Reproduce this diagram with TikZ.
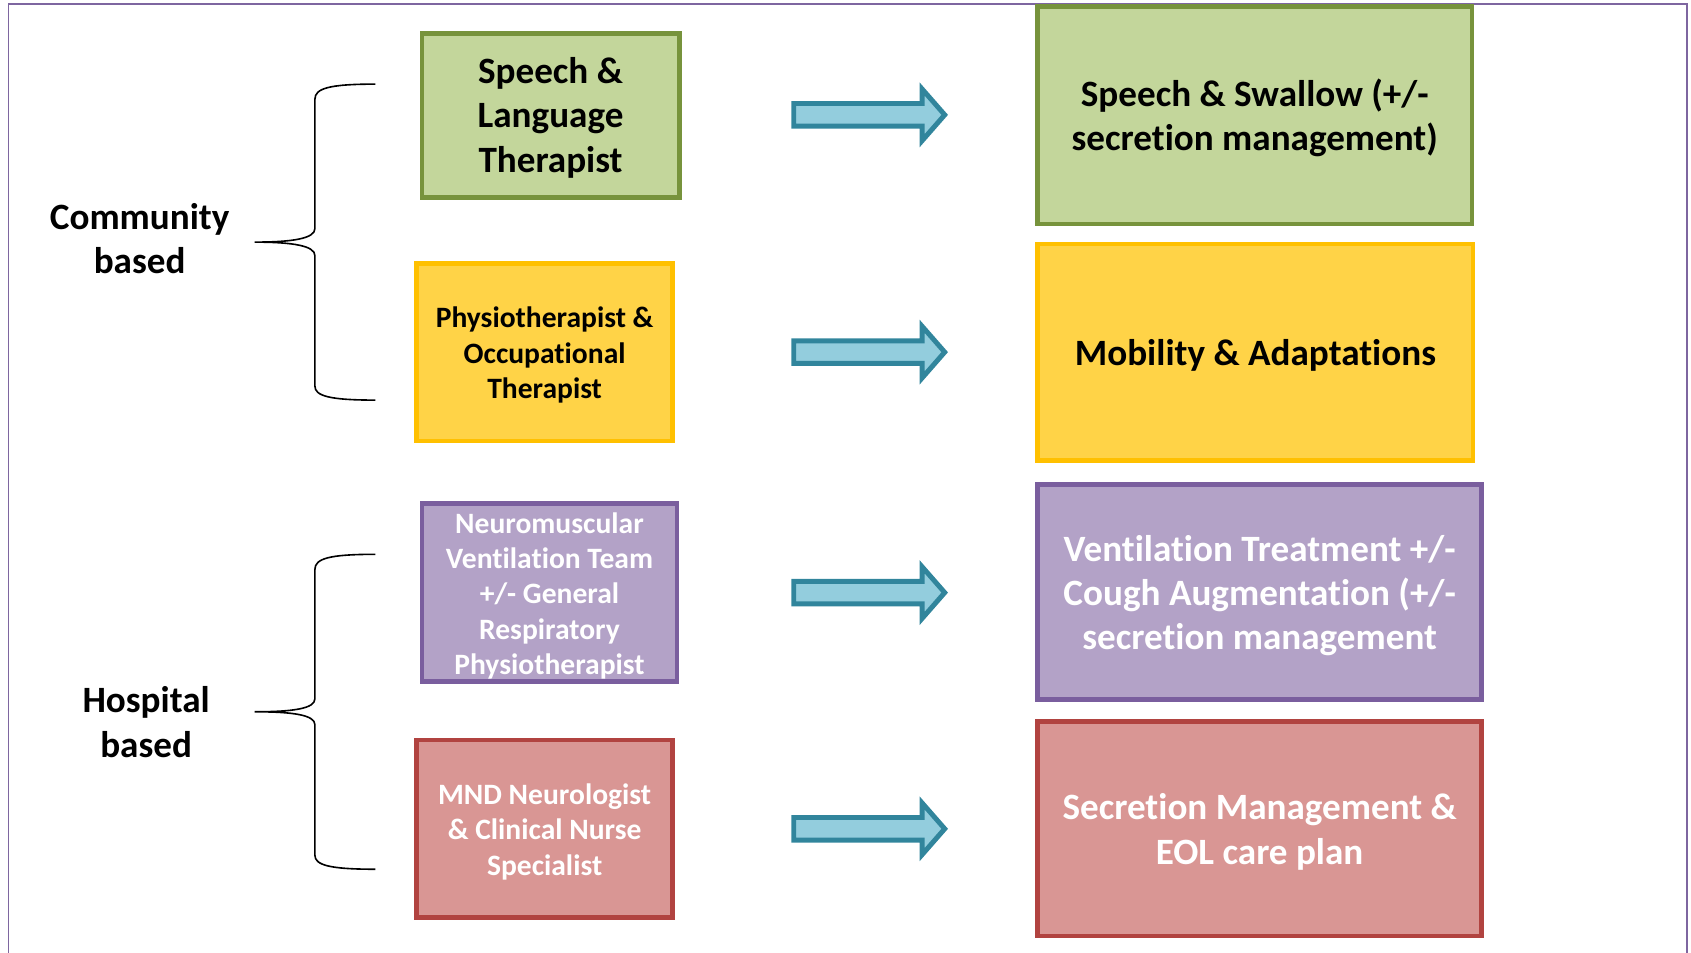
\documentclass[tikz,border=0pt]{standalone}
\usepackage{fontspec}
\setmainfont{Carlito}[Ligatures=NoCommon]
\definecolor{frameC}{HTML}{7E66A0}
\definecolor{gFill}{HTML}{C3D69B}
\definecolor{gLine}{HTML}{77933C}
\definecolor{yFill}{HTML}{FFD347}
\definecolor{yLine}{HTML}{FFC000}
\definecolor{pFill}{HTML}{B3A2C7}
\definecolor{pLine}{HTML}{7A5E9E}
\definecolor{rFill}{HTML}{D99694}
\definecolor{rLine}{HTML}{B14340}
\definecolor{aFill}{HTML}{93CDDD}
\definecolor{aLine}{HTML}{31859C}
\begin{document}
\begin{tikzpicture}[x=0.2mm,y=-0.2mm,
  box/.style={draw, line width=2.5pt, inner sep=0pt, rectangle},
  boxtext/.style={align=center, inner sep=0pt},
  bigtxt/.style={boxtext, font=\fontsize{19.6}{23.3}\selectfont\bfseries},
  smalltxt/.style={boxtext, font=\fontsize{15.6}{18.7}\selectfont\bfseries},
  greenbox/.style={box, fill=gFill, draw=gLine},
  yellowbox/.style={box, fill=yFill, draw=yLine},
  purplebox/.style={box, fill=pFill, draw=pLine},
  redbox/.style={box, fill=rFill, draw=rLine},
  grouplabel/.style={align=center, inner sep=0pt, font=\fontsize{19.6}{23.3}\selectfont\bfseries},
  bracestyle/.style={draw=black, line width=0.85pt},
  arrowstyle/.style={draw=aLine, fill=aFill, line width=2.6pt, line join=miter},
  pics/barrow/.style={code={
    \draw[arrowstyle] (0,-10.5) -- (119,-10.5) -- (119,-24) -- (140,0)
      -- (119,24) -- (119,10.5) -- (0,10.5) -- cycle;}}
]
\useasboundingbox (0,0) rectangle (1568,883);
% outer frame
\draw[frameC, line width=0.9pt] (8,890) -- (8,4) -- (1564,4) -- (1564,890);

% left boxes
\node[greenbox, minimum width=47.72mm, minimum height=30.32mm] (l1) at (510.5,107) {};
\node[bigtxt, text=black] (l1t) at ([yshift=-1.3pt]l1.center) {Speech \&\\Language\\Therapist};
\node[yellowbox, minimum width=47.52mm, minimum height=32.92mm] (l2) at (505,326.5) {};
\node[smalltxt, text=black] (l2t) at ([yshift=-1.6pt]l2.center) {Physiotherapist \&\\Occupational\\Therapist};
\node[purplebox, minimum width=47.32mm, minimum height=32.92mm] (l3) at (509.5,549.5) {};
\node[smalltxt, text=white] (l3t) at ([yshift=-1.7pt]l3.center) {Neuromuscular\\Ventilation Team\\+/- General\\Respiratory\\Physiotherapist};
\node[redbox, minimum width=47.52mm, minimum height=32.92mm] (l4) at (505,768.5) {};
\node[smalltxt, text=white] (l4t) at ([yshift=-1.6pt]l4.center) {MND Neurologist\\\& Clinical Nurse\\Specialist};

% right boxes
\node[greenbox, minimum width=80.52mm, minimum height=40.32mm] (r1) at (1163.5,107) {};
\node[bigtxt, text=black] (r1t) at ([yshift=-1.5pt]r1.center) {Speech \& Swallow (+/-\\secretion management)};
\node[yellowbox, minimum width=80.72mm, minimum height=40.12mm] (r2) at (1164,326.5) {};
\node[bigtxt, text=black] (r2t) at ([yshift=-1.6pt]r2.center) {Mobility \& Adaptations};
\node[purplebox, minimum width=82.32mm, minimum height=39.92mm] (r3) at (1168,549) {};
\node[bigtxt, text=white] (r3t) at ([yshift=-1.8pt]r3.center) {Ventilation Treatment +/-\\Cough Augmentation (+/-\\secretion management};
\node[redbox, minimum width=82.32mm, minimum height=39.72mm] (r4) at (1168,768.5) {};
\node[bigtxt, text=white] (r4t) at ([yshift=-1.6pt]r4.center) {Secretion Management \&\\EOL care plan};

% group labels
\node[grouplabel] (community) at (129.5,221.5) {Community\\based};
\node[grouplabel] (hospital) at (135.5,669.5) {Hospital\\based};

% braces
\coordinate (b1top) at (348,78);
\coordinate (b1tip) at (236,224.5);
\coordinate (b1bot) at (348,371);
\draw[bracestyle] (b1top) .. controls (305,78) and (292,82) .. (292,92)
  -- (292,212) .. controls (292,221) and (272,224.5) .. (b1tip)
  .. controls (272,224.5) and (292,228) .. (292,237)
  -- (292,358) .. controls (292,367) and (305,371) .. (b1bot);
\coordinate (b2top) at (348,514);
\coordinate (b2tip) at (236,660);
\coordinate (b2bot) at (348,806);
\draw[bracestyle] (b2top) .. controls (305,514) and (292,518) .. (292,528)
  -- (292,648) .. controls (292,657) and (272,660) .. (b2tip)
  .. controls (272,660) and (292,663) .. (292,672)
  -- (292,793) .. controls (292,802) and (305,806) .. (b2bot);

% block arrows
\pic at (736,106.5) {barrow};
\pic at (736,326.5) {barrow};
\pic at (736,549.5) {barrow};
\pic at (736,768.5) {barrow};
\end{tikzpicture}
\end{document}
